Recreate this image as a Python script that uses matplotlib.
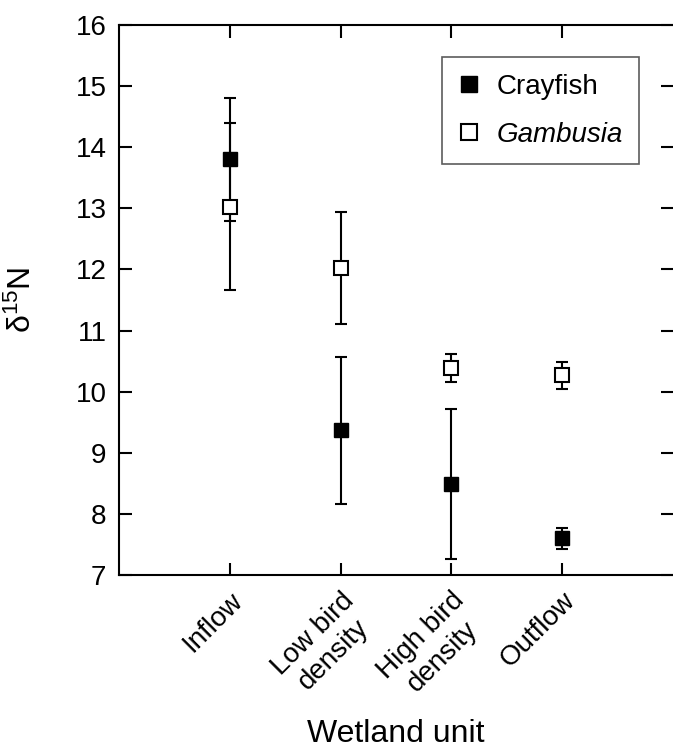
import matplotlib.pyplot as plt
from matplotlib.lines import Line2D
from matplotlib.transforms import ScaledTranslation

plt.rcParams['font.family'] = ['Liberation Sans', 'DejaVu Sans']
plt.rcParams['mathtext.fontset'] = 'custom'
plt.rcParams['mathtext.rm'] = 'Liberation Sans'

# wetland units on the x axis
units = ['Inflow', 'Low bird\ndensity', 'High bird\ndensity', 'Outflow']

# mean d15N and error bar half-width per unit
crayfish_mean = [13.80, 9.37, 8.49, 7.60]
crayfish_err = [1.00, 1.20, 1.23, 0.17]
gambusia_mean = [13.03, 12.02, 10.39, 10.27]
gambusia_err = [1.37, 0.92, 0.23, 0.22]

yticks = [7, 8, 9, 10, 11, 12, 13, 14, 15, 16]

fig = plt.figure(figsize=(6.73, 7.55), dpi=100)
ax = fig.add_axes([119 / 673, 1 - 575 / 755, 1 - 119 / 673, 550 / 755])

xpos = list(range(1, len(units) + 1))

ax.errorbar(xpos, crayfish_mean, yerr=crayfish_err, fmt='s', color='black',
            markersize=10, markerfacecolor='black', markeredgecolor='black',
            ecolor='black', elinewidth=1.5, capsize=4.5, capthick=1.5,
            label='Crayfish', zorder=3)
ax.errorbar(xpos, gambusia_mean, yerr=gambusia_err, fmt='s', color='black',
            markersize=10, markerfacecolor='white', markeredgecolor='black',
            markeredgewidth=1.5, ecolor='black', elinewidth=1.5, capsize=4.5,
            capthick=1.5, label='Gambusia', zorder=4)

ax.set_xlim(0, 5)
ax.set_ylim(7, 16)
ax.set_yticks(yticks)
ax.set_xticks(xpos)
ax.set_xticklabels(units, rotation=45, ha='right', va='top',
                   rotation_mode='anchor', multialignment='center')
# nudge the rotated labels a little to the left
for lbl in ax.get_xticklabels():
    lbl.set_transform(lbl.get_transform() +
                      ScaledTranslation(-5 / 100, 0, fig.dpi_scale_trans))

ax.tick_params(axis='both', direction='in', length=9, width=1.5,
               labelsize=20, top=True, right=True)
ax.tick_params(axis='y', pad=9)
ax.tick_params(axis='x', pad=9)

for side in ['left', 'bottom', 'top']:
    ax.spines[side].set_linewidth(1.5)
ax.spines['right'].set_visible(False)

ax.set_ylabel('$\\mathregular{\\delta^{15}N}$', fontsize=23)
ax.yaxis.set_label_coords(-0.146, 0.5)
ax.set_xlabel('Wetland unit', fontsize=23)
ax.xaxis.set_label_coords(0.5, -0.262)

# legend markers without error bars
handles = [Line2D([], [], marker='s', linestyle='none', markersize=11,
                  markerfacecolor='black', markeredgecolor='black'),
           Line2D([], [], marker='s', linestyle='none', markersize=11,
                  markerfacecolor='white', markeredgecolor='black',
                  markeredgewidth=1.5)]
leg = ax.legend(handles, ['Crayfish', 'Gambusia'], loc='upper right',
                bbox_to_anchor=(0.939, 0.942), borderaxespad=0, fontsize=20,
                fancybox=False, edgecolor='#333333', handlelength=0.7,
                handletextpad=0.65, borderpad=0.6, labelspacing=0.8)
leg.get_frame().set_linewidth(1.2)
leg.get_texts()[1].set_fontstyle('italic')

fig.savefig('out.png', dpi=100)
